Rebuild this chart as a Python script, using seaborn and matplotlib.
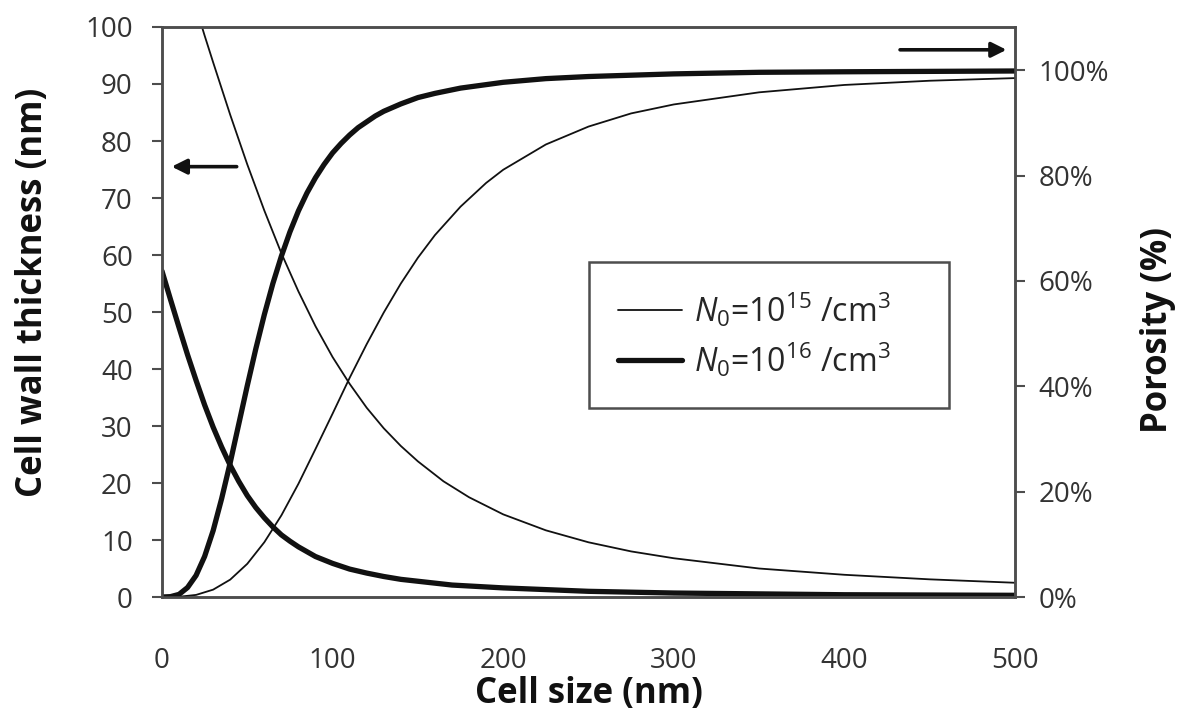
import matplotlib
matplotlib.use("Agg")
import matplotlib.pyplot as plt
import seaborn as sns
from matplotlib.lines import Line2D

# values
# cell wall thickness (nm), left axis
wall_size_15 = [20, 25, 30, 40, 50, 60, 70, 80, 90, 100, 110, 120, 130, 140, 150, 165, 180,
                200, 225, 250, 275, 300, 350, 400, 450, 500]
wall_15 = [103.4, 98.5, 93.8, 84.6, 75.9, 67.8, 60.3, 53.6, 47.5, 42.1, 37.4, 33.2, 29.6, 26.5,
           23.8, 20.3, 17.5, 14.5, 11.7, 9.6, 8.0, 6.8, 5.0, 3.9, 3.1, 2.5]
wall_size_16 = [0, 5, 10, 15, 20, 25, 30, 35, 40, 45, 50, 55, 60, 65, 70, 75, 80, 90, 100, 110,
                120, 130, 140, 155, 170, 200, 250, 300, 400, 500]
wall_16 = [57.2, 52.2, 47.3, 42.5, 38.0, 33.7, 29.8, 26.3, 23.1, 20.3, 17.8, 15.7, 13.9, 12.3,
           10.9, 9.8, 8.8, 7.1, 5.9, 4.9, 4.2, 3.6, 3.1, 2.6, 2.1, 1.6, 1.0, 0.7, 0.4, 0.3]

# porosity (%), right axis
por_size_15 = [0, 10, 20, 30, 40, 50, 60, 70, 80, 90, 100, 110, 120, 130, 140, 150, 160, 175,
               190, 200, 225, 250, 275, 300, 350, 400, 450, 500]
por_15 = [0, 0.05, 0.4, 1.4, 3.3, 6.3, 10.4, 15.5, 21.5, 28.1, 34.8, 41.6, 48.0, 54.0, 59.5,
          64.4, 68.7, 74.1, 78.6, 81.1, 85.9, 89.3, 91.8, 93.5, 95.8, 97.2, 98.0, 98.5]
por_size_16 = [0, 5, 10, 15, 20, 25, 30, 35, 40, 45, 50, 55, 60, 65, 70, 75, 80, 85, 90, 95,
               100, 105, 110, 115, 120, 125, 130, 140, 150, 160, 175, 200, 225, 250, 300, 350,
               400, 500]
por_16 = [0, 0.07, 0.5, 1.8, 4.1, 7.7, 12.6, 18.7, 25.5, 32.8, 40.1, 47.1, 53.6, 59.5, 64.7,
          69.3, 73.3, 76.7, 79.6, 82.1, 84.3, 86.1, 87.7, 89.1, 90.2, 91.3, 92.2, 93.6, 94.8,
          95.6, 96.6, 97.7, 98.4, 98.8, 99.3, 99.6, 99.7, 99.85]

labels = [r"$N_0$=10$^{15}$ /cm$^3$", r"$N_0$=10$^{16}$ /cm$^3$"]
x_ticks = [0, 100, 200, 300, 400, 500]
left_ticks = list(range(0, 101, 10))
right_ticks = [0, 20, 40, 60, 80, 100]

sns.set_style("white")
plt.rcParams["font.family"] = ["Open Sans", "DejaVu Sans"]
plt.rcParams["mathtext.fontset"] = "custom"
plt.rcParams["mathtext.rm"] = "Open Sans"
plt.rcParams["mathtext.it"] = "Open Sans:italic"

thin_w, thick_w = 1.3, 3.8
ink = "#111111"
grey = "#4d4d4d"
tick_col = "#333333"

fig = plt.figure(figsize=(11.97, 7.18), dpi=100)
ax = fig.add_axes([0.1353, 0.1685, 0.7127, 0.7939])
ax2 = ax.twinx()

sns.lineplot(x=wall_size_15, y=wall_15, ax=ax, color=ink, linewidth=thin_w)
sns.lineplot(x=wall_size_16, y=wall_16, ax=ax, color=ink, linewidth=thick_w)
sns.lineplot(x=por_size_15, y=por_15, ax=ax2, color=ink, linewidth=thin_w)
sns.lineplot(x=por_size_16, y=por_16, ax=ax2, color=ink, linewidth=thick_w)

ax.set_xlim(0, 500)
ax.set_ylim(0, 100)
ax2.set_ylim(0, 108.2)
ax.set_xticks(x_ticks)
ax.set_yticks(left_ticks)
ax2.set_yticks(right_ticks)
ax2.set_yticklabels([f"{t}%" for t in right_ticks])

for a in (ax, ax2):
    for s in a.spines.values():
        s.set_color(grey)
        s.set_linewidth(1.8)
ax.tick_params(axis="x", direction="out", length=7, width=1.5, color=grey, pad=29,
               labelsize=20, labelcolor=tick_col)
ax.tick_params(axis="y", direction="out", length=7, width=1.5, color=grey, pad=14,
               labelsize=20, labelcolor=tick_col)
ax2.tick_params(axis="y", direction="out", length=7, width=1.5, color=grey, pad=10,
                labelsize=20, labelcolor=tick_col)

ax.set_xlabel("Cell size (nm)", fontsize=25, fontweight="bold", color=ink)
ax.xaxis.label.set_va("center")
ax.xaxis.set_label_coords(0.50, -0.170)
ax.set_ylabel("Cell wall thickness (nm)", fontsize=25, fontweight="bold", color=ink)
ax.yaxis.label.set_va("center")
ax.yaxis.set_label_coords(-0.151, 0.535)
ax2.set_ylabel("Porosity (%)", fontsize=25, fontweight="bold", color=ink, rotation=90)
ax2.yaxis.label.set_va("center")
ax2.yaxis.set_label_coords(1.168, 0.468)

# arrows pointing to each axis
arrow = dict(arrowstyle="-|>,head_length=0.9,head_width=0.45", color=ink, lw=2.6,
             shrinkA=0, shrinkB=0)
ax.annotate("", xy=(5.7, 75.5), xytext=(43.8, 75.5), arrowprops=arrow)
ax.annotate("", xy=(495, 96), xytext=(432.6, 96), arrowprops=arrow)

handles = [Line2D([], [], color=ink, linewidth=thin_w),
           Line2D([], [], color=ink, linewidth=thick_w)]
leg = ax2.legend(handles, labels, loc="center", mode="expand",
                 bbox_to_anchor=(0.5006, 0.3333, 0.422, 0.2526),
                 frameon=True, fancybox=False, fontsize=23, handlelength=2.0,
                 handletextpad=0.4, labelspacing=0.35, borderpad=0.9, borderaxespad=0)
leg.get_frame().set_edgecolor("#222222")
leg.get_frame().set_linewidth(1.8)

fig.savefig("out.png", dpi=100)
